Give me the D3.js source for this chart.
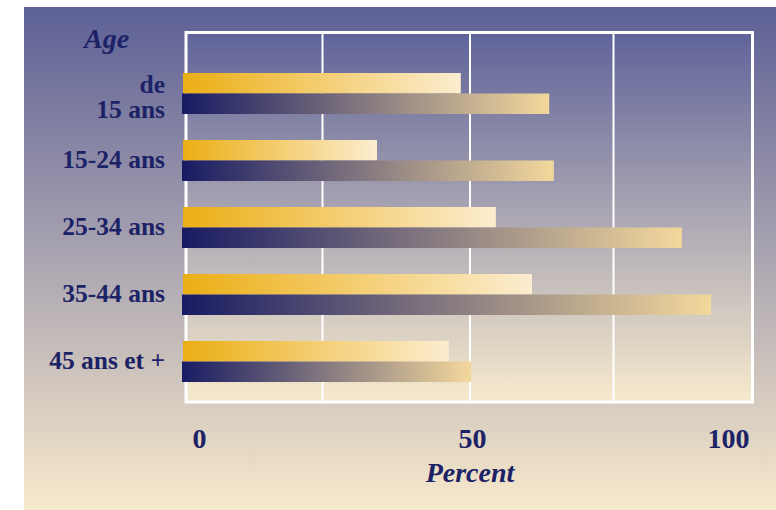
<!DOCTYPE html>
<html>
<head>
<meta charset="utf-8">
<script src="https://cdn.jsdelivr.net/npm/d3@7"></script>
<style>
  body { margin: 0; background: #fff; }
  text { font-family: "Liberation Serif", "DejaVu Serif", serif; fill: #1c2266; font-weight: bold; }
</style>
</head>
<body>
<svg id="chart"></svg>
<script>
// values
const ageLabels = ["de|15 ans", "15-24 ans", "25-34 ans", "35-44 ans", "45 ans et +"];
const series = ["top", "bottom"];
const topValues = [48.4, 33.8, 54.5, 60.8, 46.3];
const bottomValues = [63.8, 64.6, 86.9, 92.0, 50.2];
const tickValues = [0, 50, 100];
const gridValues = [25, 50, 75];

const W = 776, H = 510;

let svg = d3.select("#chart")
  .attr("width", W)
  .attr("height", H)
  .attr("viewBox", `0 0 ${W} ${H}`);

let defs = svg.append("defs");

function grad(id, stops, vertical) {
  let g = defs.append("linearGradient")
    .attr("id", id)
    .attr("x1", 0).attr("y1", 0)
    .attr("x2", vertical ? 0 : 1).attr("y2", vertical ? 1 : 0);
  stops.forEach((c, i) => g.append("stop")
    .attr("offset", i / (stops.length - 1))
    .attr("stop-color", c));
}

grad("bg", ["#5d6096", "#f7e9cb"], true);
grad("panel", ["#5f6399", "#f7eacd"], true);
grad("gold", ["#ebae14", "#fcedd0"]);
grad("navy", ["#181b63", "#f3d89c"]);

// page background
svg.append("rect")
  .attr("x", 24).attr("y", 7)
  .attr("width", W - 24).attr("height", H - 7)
  .attr("fill", "url(#bg)");

let x = d3.scaleLinear().domain([0, 100]).range([183, 757]);

let y = d3.scaleBand()
  .domain(ageLabels)
  .range([73, 382])
  .paddingInner(0.388);

let ySub = d3.scaleBand()
  .domain(series)
  .range([0, y.bandwidth()]);

// plot panel
let frame = { x: 186, y: 32.5, w: 566.5, h: 369.5 };
svg.append("rect")
  .attr("x", frame.x).attr("y", frame.y)
  .attr("width", frame.w).attr("height", frame.h)
  .attr("fill", "url(#panel)");

svg.selectAll(".grid")
  .data(gridValues)
  .enter().append("line")
  .attr("class", "grid")
  .attr("x1", d => d == 25 ? x(d) - 4 : x(d))
  .attr("x2", d => d == 25 ? x(d) - 4 : x(d))
  .attr("y1", frame.y).attr("y2", frame.y + frame.h)
  .attr("stroke", "#fff")
  .attr("stroke-width", 2);

svg.append("rect")
  .attr("x", frame.x).attr("y", frame.y)
  .attr("width", frame.w).attr("height", frame.h)
  .attr("fill", "none")
  .attr("stroke", "#fff")
  .attr("stroke-width", 3);

// bars
let group = svg.selectAll(".age")
  .data(ageLabels)
  .enter().append("g")
  .attr("class", "age")
  .attr("transform", d => `translate(0,${y(d)})`);

group.append("rect")
  .attr("x", x(0))
  .attr("y", ySub("top"))
  .attr("height", ySub.bandwidth())
  .attr("width", (d, i) => x(topValues[i]) - x(0))
  .attr("fill", "url(#gold)");

group.append("rect")
  .attr("x", x(0) - 1)
  .attr("y", ySub("bottom"))
  .attr("height", ySub.bandwidth())
  .attr("width", (d, i) => x(bottomValues[i]) - x(0) + 1)
  .attr("fill", "url(#navy)");

// category labels
let labels = group.append("text")
  .attr("text-anchor", "end")
  .attr("font-size", 25.5)
  .attr("y", y.bandwidth() / 2);

labels.each(function(d) {
  let lines = d.split("|");
  let t = d3.select(this);
  lines.forEach((l, i) => t.append("tspan")
    .attr("x", 165)
    .attr("dy", i == 0 ? (lines.length > 1 ? -1 : 8) : 25)
    .text(l));
});

svg.append("text")
  .attr("x", 84).attr("y", 48)
  .attr("font-size", 28)
  .attr("font-style", "italic")
  .text("Age");

// x axis
let axis = svg.append("g")
  .attr("transform", "translate(0,402)")
  .call(d3.axisBottom(x).tickValues(tickValues).tickSize(0).tickPadding(0));

axis.select(".domain").remove();
axis.selectAll("text")
  .attr("font-size", 28)
  .attr("fill", "#1c2266")
  .attr("dy", 0)
  .attr("y", 46)
  .attr("text-anchor", (d, i) => i == 0 ? "start" : (i == tickValues.length - 1 ? "end" : "middle"))
  .attr("x", (d, i) => i == 0 ? 9 : (i == tickValues.length - 1 ? -8 : 2))
  .style("font-family", "'Liberation Serif', serif")
  .style("font-weight", "bold");

svg.append("text")
  .attr("x", x(50)).attr("y", 482)
  .attr("text-anchor", "middle")
  .attr("font-size", 28)
  .attr("font-style", "italic")
  .text("Percent");
</script>
</body>
</html>
